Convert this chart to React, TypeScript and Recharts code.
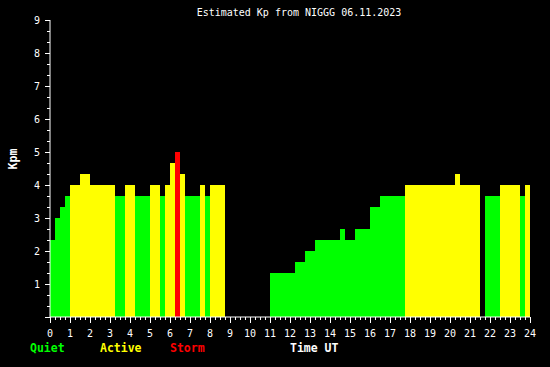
import React from 'react';
import { BarChart, Bar, XAxis, YAxis, Cell } from 'recharts';

// Estimated Kp for each 15-minute slot of 06.11.2023 (96 slots, null = no data)
const kpValues: (number | null)[] = [
  2.33, 3, 3.33, 3.67, 4, 4, 4.33, 4.33,
  4, 4, 4, 4, 4, 3.67, 3.67, 4,
  4, 3.67, 3.67, 3.67, 4, 4, 3.67, 4,
  4.67, 5, 4.33, 3.67, 3.67, 3.67, 4, 3.67,
  4, 4, 4, null, null, null, null, null,
  null, null, null, null, 1.33, 1.33, 1.33, 1.33,
  1.33, 1.67, 1.67, 2, 2, 2.33, 2.33, 2.33,
  2.33, 2.33, 2.67, 2.33, 2.33, 2.67, 2.67, 2.67,
  3.33, 3.33, 3.67, 3.67, 3.67, 3.67, 3.67, 4,
  4, 4, 4, 4, 4, 4, 4, 4,
  4, 4.33, 4, 4, 4, 4, null, 3.67,
  3.67, 3.67, 4, 4, 4, 4, 3.67, 4,
];

const hourLabels = [0, 1, 2, 3, 4, 5, 6, 7, 8, 9, 10, 11, 12, 13, 14, 15, 16, 17, 18, 19, 20, 21, 22, 23, 24];
const kpLabels = [1, 2, 3, 4, 5, 6, 7, 8, 9];
const legendItems = [
  { label: 'Quiet', color: '#00ff00', x: 30 },
  { label: 'Active', color: '#ffff00', x: 100 },
  { label: 'Storm', color: '#ff0000', x: 170 },
  { label: 'Time UT', color: '#ffffff', x: 290 },
];
const title = 'Estimated Kp from NIGGG 06.11.2023';

const SLOTS_PER_HOUR = 4;
const data = kpValues.map((kp, i) => ({ t: i / SLOTS_PER_HOUR + 1 / (2 * SLOTS_PER_HOUR), kp }));

const xTicks: number[] = [];
for (let i = 0; i <= 24 * SLOTS_PER_HOUR; i++) xTicks.push(i / SLOTS_PER_HOUR);
const yTicks: number[] = [];
for (let i = 0; i <= 27; i++) yTicks.push(i / 3);

const colorFor = (kp: number | null) =>
  kp === null ? 'transparent' : kp >= 5 ? '#ff0000' : kp >= 4 ? '#ffff00' : '#00ff00';

const MONO = '"DejaVu Sans Mono", "Liberation Mono", monospace';

const isMajor = (v: number) => Math.abs(v - Math.round(v)) < 0.01;

const XTick = (props: any) => {
  const { x, y, payload } = props;
  const v = payload.value as number;
  const major = isMajor(v);
  return (
    <g>
      <line x1={x} x2={x} y1={y} y2={y + (major ? 6 : 3)} stroke="#ffffff" shapeRendering="crispEdges" />
      {major && hourLabels.includes(Math.round(v)) ? (
        <text x={x} y={y + 20} textAnchor="middle" fill="#ffffff" fontFamily={MONO} fontSize={10}>
          {Math.round(v)}
        </text>
      ) : null}
    </g>
  );
};

const YTick = (props: any) => {
  const { x, y, payload } = props;
  const v = payload.value as number;
  const major = isMajor(v);
  const r = Math.round(v);
  return (
    <g>
      <line x1={x - (major ? 5 : 3)} x2={x} y1={y} y2={y} stroke="#ffffff" shapeRendering="crispEdges" />
      {major && kpLabels.includes(r) ? (
        <text x={x - 10} y={y + 4} textAnchor="end" fill="#ffffff" fontFamily={MONO} fontSize={10}>
          {r}
        </text>
      ) : null}
    </g>
  );
};

export default function App() {
  return (
    <div style={{ position: 'absolute', left: 0, top: 0, width: 550, height: 367, background: '#000000', overflow: 'hidden' }}>
      <BarChart
        width={550}
        height={367}
        data={data}
        margin={{ top: 20, right: 20, bottom: 0, left: 0 }}
        barCategoryGap={0}
        barGap={0}
      >
        <XAxis
          type="number"
          dataKey="t"
          domain={[0, 24]}
          ticks={xTicks}
          interval={0}
          allowDecimals
          height={50}
          tickSize={0}
          tickMargin={0}
          tickLine={false}
          axisLine={{ stroke: '#ffffff' }}
          tick={<XTick />}
        />
        <YAxis
          type="number"
          domain={[0, 9]}
          ticks={yTicks}
          interval={0}
          allowDecimals
          width={50}
          tickSize={0}
          tickMargin={0}
          tickLine={false}
          axisLine={{ stroke: '#ffffff' }}
          tick={<YTick />}
        />
        <Bar dataKey="kp" barSize={5} isAnimationActive={false} shapeRendering="crispEdges">
          {data.map((d, i) => (
            <Cell key={i} fill={colorFor(d.kp)} />
          ))}
        </Bar>
      </BarChart>
      <svg width={550} height={367} style={{ position: 'absolute', left: 0, top: 0, pointerEvents: 'none' }}>
        <text x={299} y={16} textAnchor="middle" fill="#ffffff" fontFamily={MONO} fontSize={10}>
          {title}
        </text>
        <text
          transform="translate(16.5,159) rotate(-90)"
          textAnchor="middle"
          fill="#ffffff"
          fontFamily={MONO}
          fontSize={11.5}
          fontWeight="bold"
        >
          Kpm
        </text>
        {legendItems.map((it) => (
          <text key={it.label} x={it.x} y={352} fill={it.color} fontFamily={MONO} fontSize={11.5} fontWeight="bold">
            {it.label}
          </text>
        ))}
      </svg>
    </div>
  );
}
